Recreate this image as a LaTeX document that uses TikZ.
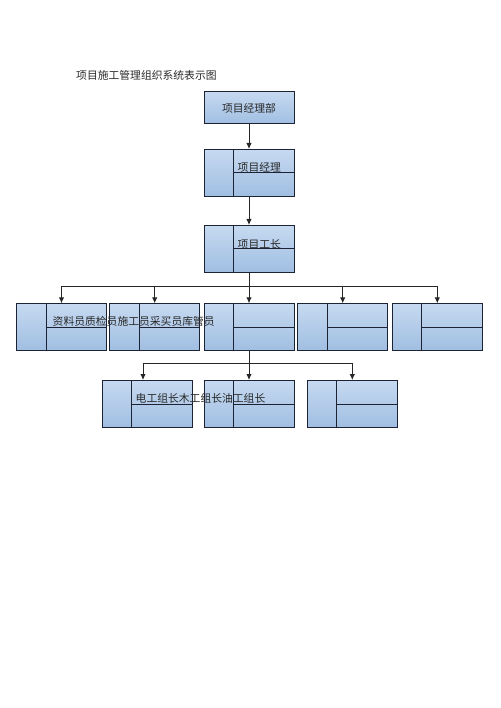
\documentclass[tikz,border=0pt]{standalone}
\usepackage{fontspec}
\newfontfamily\cjk{Noto Sans CJK SC}
\usepackage{tikz}
\usetikzlibrary{arrows.meta}
\usetikzlibrary{calc}
\definecolor{boxtop}{RGB}{198,217,240}
\definecolor{boxbot}{RGB}{160,190,226}
\definecolor{boxline}{RGB}{28,36,52}
\definecolor{ink}{RGB}{40,40,40}
\tikzset{
	org line/.style={line width=1pt, draw=boxline}
}
\tikzstyle{orgbox}=[org line, top color=boxtop, bottom color=boxbot, minimum width=90pt, minimum height=47pt, inner sep=0pt]
\tikzstyle{wire}=[line width=0.9pt, draw=black!85]
\tikzstyle{link}=[wire, -{Latex[length=6pt,width=5.5pt]}]
\tikzstyle{label}=[font=\cjk\fontsize{10.8}{13}\selectfont, text=ink, inner sep=0pt, anchor=west]
\newcommand{\splitbox}[2]{
	\node[orgbox] (#1) at #2 {};
	\draw[org line] ($(#1.north west)+(30,0)$) -- ($(#1.south west)+(30,0)$);
	\draw[org line] ($(#1.west)+(30,0)$) -- (#1.east);
}
\begin{document}
\begin{tikzpicture}[x=1pt, y=-1pt]
	\useasboundingbox[fill=white] (0,0) rectangle (500,708);
	\node[label] (title) at (76,75) {项目施工管理组织系统表示图};
	% top of the chart
	\node[orgbox, minimum height=32pt] (dept) at (249,108) {};
	\node[label, anchor=center] (tdept) at (dept.center) {项目经理部};
	\splitbox{pm}{(249,173)}
	\splitbox{fm}{(249,249)}
	\draw[link] (dept.south) -- (pm.north);
	\draw[link] (pm.south) -- (fm.north);
	% first row
	\splitbox{ra}{(61.5,327.3)}
	\splitbox{rb}{(154.7,327.3)}
	\splitbox{rc}{(249,327.3)}
	\splitbox{rd}{(342.7,327.3)}
	\splitbox{re}{(437.3,327.3)}
	\coordinate (bus) at (0,286);
	\draw[wire] (fm.south) -- (fm.south |- bus);
	\draw[wire] (ra.north |- bus) -- (re.north |- bus);
	\foreach \b in {ra,rb,rc,rd,re}
		\draw[link] (\b.north |- bus) -- (\b.north);
	% second row
	\splitbox{sa}{(147,404)}
	\splitbox{sb}{(249,404)}
	\splitbox{sc}{(352.3,404)}
	\coordinate (busb) at (143,363);
	\draw[wire] (rc.south) -- (rc.south |- busb);
	\draw[wire] (busb) -- (sc.north |- busb);
	\draw[link] (busb) -- (busb |- sa.north);
	\draw[link] (sb.north |- busb) -- (sb.north);
	\draw[link] (sc.north |- busb) -- (sc.north);
	% labels
	\node[label] (tpm) at (237.5,167.5) {项目经理};
	\node[label] (tfm) at (237.5,244) {项目工长};
	\node[label] (tra) at (52.5,321.7) {资料员质检员施工员采买员库管员};
%	\node[label] (trb) at (143,321.7) {};
	\node[label] (tsa) at (135.5,398.3) {电工组长木工组长油工组长};
\end{tikzpicture}
\end{document}
